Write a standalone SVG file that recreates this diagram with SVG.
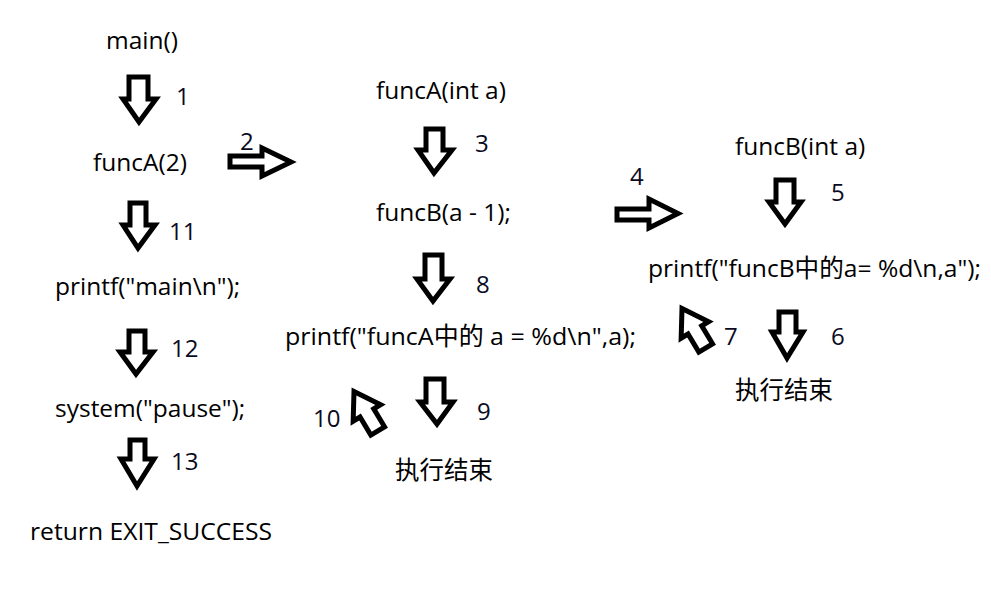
<svg xmlns="http://www.w3.org/2000/svg" width="991" height="590" viewBox="0 0 991 590">
  <style>
    .t { font-family: "Open Sans", "Noto Sans CJK SC", sans-serif; font-size: 24.5px; fill: #000; }
    .n { font-family: "Open Sans", "Noto Sans CJK SC", sans-serif; font-size: 24px; fill: #0a0a1e; }
    .ar { fill: #fff; stroke: #000; stroke-width: 5; stroke-linejoin: miter; stroke-miterlimit: 10; }
  </style>
  <defs>
    <polygon id="diag" points="0,0 16,25 8,25 8,46 -8,46 -8,25 -16,25"/>
  </defs>
  <rect width="991" height="590" fill="#fff"/>

  <g id="connectors">
    <polygon id="a1" class="ar" points="129,77 148,77 148,99 156,99 139,122 123,99 129,99"/>
    <polygon id="a11" class="ar" points="130,203 146,203 146,225 155,225 138,248 123,225 130,225"/>
    <polygon id="a12" class="ar" points="129,331 145,331 145,352 153,352 136,374 120,352 129,352"/>
    <polygon id="a13" class="ar" points="130,440 145,440 145,459 154,459 137,486 121,459 130,459"/>
    <polygon id="a2" class="ar" points="230,156 262,156 262,148 291,162 262,176 262,167 230,167"/>
    <polygon id="a3" class="ar" points="426,129 443,129 443,150 452,150 434,173 418,150 426,150"/>
    <polygon id="a8" class="ar" points="425,255 442,255 442,279 450,279 433,301 417,279 425,279"/>
    <polygon id="a9" class="ar" points="426,379 444,379 444,402 453,402 437,424 420,402 426,402"/>
    <polygon id="a4" class="ar" points="617,209 649,209 649,199 678,213.5 649,228 649,220 617,220"/>
    <polygon id="a5" class="ar" points="776,180 794,180 794,202 801,202 785,224 769,202 776,202"/>
    <polygon id="a6" class="ar" points="779,312 796,312 796,332 803,332 787,358 772,332 779,332"/>
    <use id="a10" href="#diag" class="ar" transform="translate(354,391.5) rotate(-31)"/>
    <use id="a7" href="#diag" class="ar" transform="translate(682,308.5) rotate(-31)"/>
  </g>

  <g id="main-column">
    <g id="node-main"><text class="t" x="106" y="49">main()</text></g>
    <g id="node-funcA2"><text class="t" x="93" y="171">funcA(2)</text></g>
    <g id="node-printf-main"><text class="t" x="55" y="295">printf("main\n");</text></g>
    <g id="node-system"><text class="t" x="55" y="417">system("pause");</text></g>
    <g id="node-return"><text class="t" x="30" y="540" textLength="242" lengthAdjust="spacingAndGlyphs">return EXIT_SUCCESS</text></g>
  </g>

  <g id="funcA-column">
    <g id="node-funcA"><text class="t" x="376" y="99">funcA(int a)</text></g>
    <g id="node-funcB-call"><text class="t" x="376" y="221">funcB(a - 1);</text></g>
    <g id="node-printf-funcA"><text class="t" x="285" y="345" textLength="351" lengthAdjust="spacingAndGlyphs">printf("funcA中的 a = %d\n",a);</text></g>
    <g id="node-endA"><text class="t" x="395" y="479">执行结束</text></g>
  </g>

  <g id="funcB-column">
    <g id="node-funcB"><text class="t" x="735" y="155">funcB(int a)</text></g>
    <g id="node-printf-funcB"><text class="t" x="648" y="277" textLength="333" lengthAdjust="spacingAndGlyphs">printf("funcB中的a= %d\n,a");</text></g>
    <g id="node-endB"><text class="t" x="735" y="399">执行结束</text></g>
  </g>

  <g id="step-numbers">
    <text class="n" x="176" y="105">1</text>
    <text class="n" x="240" y="150">2</text>
    <text class="n" x="475" y="152">3</text>
    <text class="n" x="630" y="185">4</text>
    <text class="n" x="831" y="201">5</text>
    <text class="n" x="831" y="345">6</text>
    <text class="n" x="724" y="345">7</text>
    <text class="n" x="476" y="293">8</text>
    <text class="n" x="477" y="420">9</text>
    <text class="n" x="313" y="427">10</text>
    <text class="n" x="169" y="240">11</text>
    <text class="n" x="171" y="357">12</text>
    <text class="n" x="171" y="470">13</text>
  </g>
</svg>
